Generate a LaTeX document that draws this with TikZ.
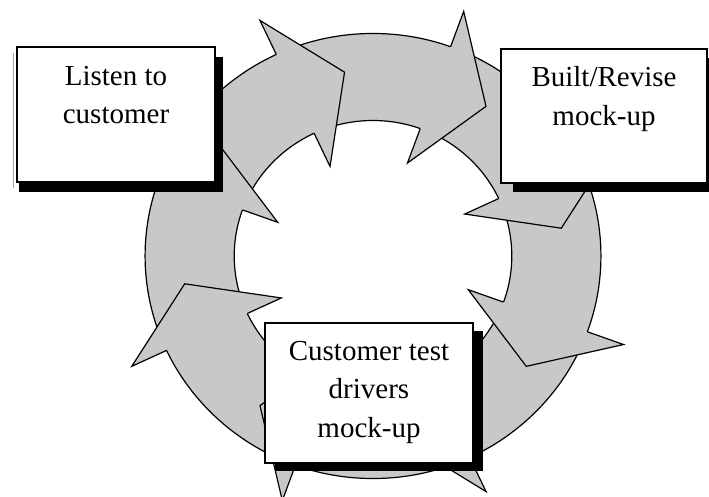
\documentclass[tikz,border=0pt]{standalone}
\usepackage{fontspec}
\setmainfont{Liberation Serif}
\begin{document}
\begin{tikzpicture}[x=1pt,y=-1pt,
  ringfill/.style={fill={rgb,255:red,200;green,200;blue,200}},
  ringline/.style={draw=black,line width=1.2pt,line join=miter},
  boxnode/.style={draw=black,fill=white,line width=1.6pt,inner sep=0pt},
  shadownode/.style={fill=black,draw=none,inner sep=0pt},
  label/.style={font=\fontsize{29}{38.5}\selectfont,align=center,anchor=base,inner sep=0pt}]
\useasboundingbox (0,0) rectangle (709,497);
% ring of arrows
\begin{scope}[shift={(373,256)},x=1.013pt,y=0.989pt]
  \fill[ringfill,even odd rule] (0,0) circle[radius=225] (0,0) circle[radius=137];
  \draw[ringline] (0,0) circle[radius=225];
  \draw[ringline] (0,0) circle[radius=137];
  \foreach \t in {8.6,53.6,98.6,143.6,188.6,233.6,278.6,323.6}{
    \pgfmathsetmacro\b{\t+16.5}
    \fill[ringfill] (\b:225) -- (\b:263) -- (\t:188) -- (\b:100) -- (\b:137) -- cycle;
    \draw[ringline] (\b:225) -- (\b:263) -- (\t:188) -- (\b:100) -- (\b:137);
  }
\end{scope}
% Listen to customer
\draw[gray!70,line width=0.8pt] (13,53) -- (13,188);
\node[shadownode,minimum width=204pt,minimum height=135pt] (listenshadow) at (121,124.5) {};
\node[boxnode,minimum width=198pt,minimum height=135pt] (listenbox) at (116,114.5) {};
\node[label] (listentext) at (116,124) {Listen to\\customer};
% Built/Revise mock-up
\node[shadownode,minimum width=210pt,minimum height=134pt] (builtshadow) at (618,125) {};
\node[boxnode,minimum width=206pt,minimum height=134pt] (builtbox) at (604,116) {};
\node[label] (builttext) at (604,125.5) {Built/Revise\\mock-up};
% Customer test drivers mock-up
\node[shadownode,minimum width=208pt,minimum height=140pt] (custshadow) at (379,401) {};
\node[boxnode,minimum width=208pt,minimum height=140pt] (custbox) at (369,393) {};
\node[label] (custtext) at (369,437) {Customer test\\drivers\\mock-up};
\end{tikzpicture}
\end{document}
